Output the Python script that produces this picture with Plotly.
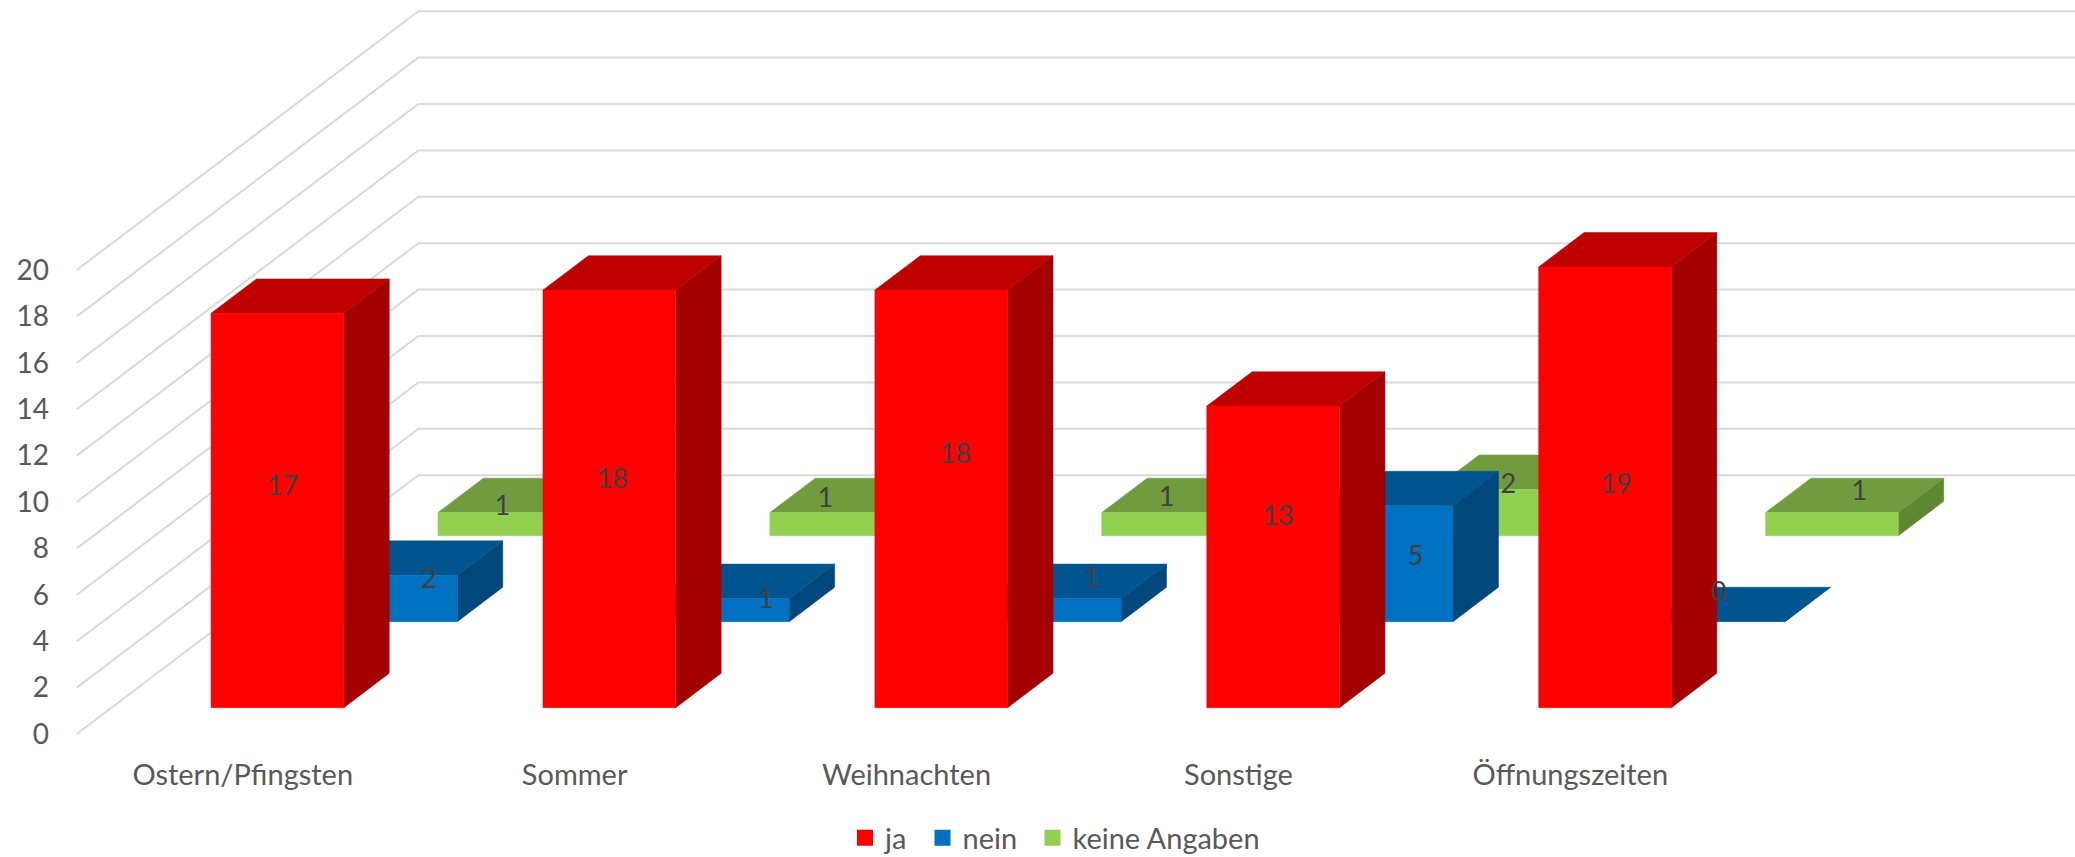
import plotly.graph_objects as go

# ---- data ----
categories = ["Ostern/Pfingsten", "Sommer", "Weihnachten", "Sonstige", "Öffnungszeiten"]
ja = [17, 18, 18, 13, 19]
nein = [2, 1, 1, 5, 0]
keine_angaben = [1, 1, 1, 2, 1]
value_ticks = [0, 2, 4, 6, 8, 10, 12, 14, 16, 18, 20]

# ---- geometry of the oblique projection (pixels of the 2075x857 page) ----
W, H = 2075, 857
PX_X0, PX_CAT = 76.8, 331.9      # left end of the floor front edge, width of one category
PX_Y0, PX_UNIT = 734.0, 23.2     # pixel row of value 0 on the front edge, pixels per unit
PX_DEPTH_X, PX_DEPTH_Y = 341.5, 258.8
BAR_W = 0.4                      # in category units
ROW_Z0 = [0.1016, 0.434, 0.766]  # depth of each series' front face (0..1)
ROW_DZ = 0.133
MARGIN_L, PLOT_BOTTOM = 50, 755

DX = PX_DEPTH_X / PX_CAT         # depth axis expressed in data units
DY = PX_DEPTH_Y / PX_UNIT

GRID = "#D9D9D9"
TXT = "#595959"
LBL = "#404040"
FONT = "Lato"
FS_AXIS = 29
FS_VALUE = 28
FS_LABEL = 27

series = [
    ("keine Angaben", keine_angaben, 2, "#92D050", "#709B3E", "#5F8732"),
    ("nein", nein, 1, "#0070C0", "#00548F", "#00477B"),
    ("ja", ja, 0, "#FF0000", "#BF0000", "#A30000"),
]

# data-label nudges relative to the front-face centre, in pixels (hand placed in the source)
label_nudge = {
    "ja": [(4.9, -25), (2.9, -21), (13.9, -46), (4.7, -42), (11, -4)],
    "nein": [(37.8, -20.5), (42.9, -12), (36.7, -33), (29, -8.7), (0.2, -30)],
    "keine Angaben": [(-2.1, -19), (-11, -26.5), (-1.6, -28), (8.2, -29.8), (27.3, -34)],
}
LABEL_SHIFT_DOWN = 3
# left edge of each legend entry, in pixels
legend_left = {"ja": 845, "nein": 922.5, "keine Angaben": 1032.5}
legend_ids = {"ja": "legend", "nein": "legend2", "keine Angaben": "legend3"}
LEGEND_CY = 838


def poly(points, xs, ys):
    for x, y in points:
        xs.append(x)
        ys.append(y)
    xs.append(points[0][0])
    ys.append(points[0][1])
    xs.append(None)
    ys.append(None)


def face(name, xs, ys, color):
    return go.Scatter(x=xs, y=ys, mode="lines", fill="toself", fillcolor=color,
                      line=dict(color=color, width=0.5), showlegend=False,
                      hoverinfo="skip", name=name)


fig = go.Figure()

# gridlines: up the side wall, then along the back wall
gx, gy = [], []
xl = -0.5
xr = len(categories) - 0.5 + DX
for v in value_ticks:
    gx += [xl, xl + DX, xr, None]
    gy += [v, v + DY, v + DY, None]
fig.add_trace(go.Scatter(x=gx, y=gy, mode="lines", line=dict(color=GRID, width=2),
                         showlegend=False, hoverinfo="skip"))

lx, ly, lt = [], [], []
for name, vals, row, c_front, c_top, c_side in series:
    z0 = ROW_Z0[row]
    sx, sy, tx, ty, fx, fy = [], [], [], [], [], []
    for i, v in enumerate(vals):
        a = i - BAR_W / 2
        b = i + BAR_W / 2
        # floor position of this row: bars stand on the projected floor
        ax, bx = a + z0 * DX, b + z0 * DX
        y0 = z0 * DY
        ddx, ddy = ROW_DZ * DX, ROW_DZ * DY
        poly([(bx, y0), (bx + ddx, y0 + ddy), (bx + ddx, y0 + ddy + v), (bx, y0 + v)], sx, sy)
        poly([(ax, y0 + v), (bx, y0 + v), (bx + ddx, y0 + v + ddy), (ax + ddx, y0 + v + ddy)], tx, ty)
        if v > 0:
            poly([(ax, y0), (bx, y0), (bx, y0 + v), (ax, y0 + v)], fx, fy)
        ndx, ndy = label_nudge[name][i]
        lx.append((ax + bx) / 2 + ndx / PX_CAT)
        ly.append(y0 + v / 2 - (ndy + LABEL_SHIFT_DOWN) / PX_UNIT)
        lt.append(str(v))
    fig.add_trace(face(name, sx, sy, c_side))
    fig.add_trace(face(name, tx, ty, c_top))
    fig.add_trace(face(name, fx, fy, c_front))

fig.add_trace(go.Scatter(x=lx, y=ly, text=lt, mode="text", textposition="middle center",
                         textfont=dict(family=FONT, size=FS_LABEL, color=LBL),
                         showlegend=False, hoverinfo="skip"))

# legend keys, in the source's order, one positioned legend per entry
legend_layout = {}
for name, vals, row, c_front, _, _ in reversed(series):
    fig.add_trace(go.Scatter(x=[None], y=[None], mode="markers", name=name,
                             legend=legend_ids[name],
                             marker=dict(symbol="square", size=16, color=c_front)))
    legend_layout[legend_ids[name]] = dict(
        orientation="h", xref="container", yref="container",
        xanchor="left", yanchor="middle",
        x=legend_left[name] / W, y=(H - LEGEND_CY) / H,
        font=dict(family=FONT, size=FS_AXIS, color=TXT), bgcolor="rgba(0,0,0,0)")

x_lo = (MARGIN_L - PX_X0) / PX_CAT - 0.5
x_hi = (W - PX_X0) / PX_CAT - 0.5
y_lo = (PX_Y0 - PLOT_BOTTOM) / PX_UNIT
y_hi = PX_Y0 / PX_UNIT

fig.update_layout(
    width=W, height=H,
    margin=dict(l=MARGIN_L, r=0, t=0, b=H - PLOT_BOTTOM, pad=0),
    paper_bgcolor="white", plot_bgcolor="white",
    font=dict(family=FONT, size=FS_AXIS, color=TXT),
    xaxis=dict(range=[x_lo, x_hi], tickvals=list(range(len(categories))), ticktext=categories,
               showgrid=False, zeroline=False, showline=False, ticks="",
               tickfont=dict(family=FONT, size=FS_AXIS, color=TXT)),
    yaxis=dict(range=[y_lo, y_hi], tickvals=value_ticks, showgrid=False, zeroline=False,
               showline=False, ticks="", tickfont=dict(family=FONT, size=FS_VALUE, color=TXT)),
    showlegend=True,
    **legend_layout,
)

fig.write_html("out.html", config={"displayModeBar": False},
               post_script="document.body.style.margin='0';document.body.style.overflow='hidden';")
